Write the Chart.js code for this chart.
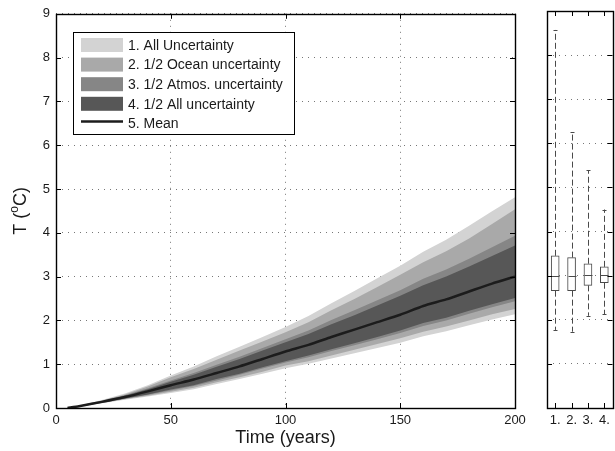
<!DOCTYPE html>
<html>
<head>
<meta charset="utf-8">
<script src="https://cdn.jsdelivr.net/npm/chart.js@4.4.1/dist/chart.umd.min.js"></script>
<style>
  html, body { margin: 0; padding: 0; background: #fff; }
  #wrap { position: relative; width: 615px; height: 451px; }
  #main { position: absolute; left: 0; top: 0; }
  #side { position: absolute; left: 540px; top: 0; }
</style>
</head>
<body>
<div id="wrap">
  <canvas id="main" width="615" height="451"></canvas>
  <canvas id="side" width="75" height="451"></canvas>
</div>
<script>
// warming paths (years after start) with nested uncertainty bands
const years   = [5, 10, 20, 30, 40, 50, 60, 70, 80, 90, 100, 110, 120, 130, 140, 150, 160, 170, 180, 190, 200];
const meanT   = [0, 0.04, 0.14, 0.25, 0.38, 0.52, 0.65, 0.80, 0.95, 1.12, 1.29, 1.44, 1.62, 1.79, 1.96, 2.13, 2.33, 2.48, 2.66, 2.84, 3.00];
const allHi   = [0, 0.05, 0.18, 0.33, 0.52, 0.74, 0.95, 1.18, 1.40, 1.62, 1.85, 2.10, 2.39, 2.67, 2.96, 3.25, 3.57, 3.84, 4.16, 4.49, 4.81];
const allLo   = [0, 0.03, 0.11, 0.19, 0.26, 0.34, 0.43, 0.55, 0.66, 0.78, 0.91, 1.01, 1.13, 1.25, 1.37, 1.49, 1.64, 1.75, 1.89, 2.02, 2.14];
const oceanHi = [0, 0.05, 0.17, 0.31, 0.49, 0.70, 0.89, 1.10, 1.31, 1.52, 1.73, 1.96, 2.23, 2.49, 2.76, 3.04, 3.33, 3.58, 3.87, 4.20, 4.54];
const oceanLo = [0, 0.03, 0.115, 0.20, 0.28, 0.37, 0.46, 0.59, 0.70, 0.83, 0.97, 1.07, 1.20, 1.33, 1.46, 1.59, 1.74, 1.86, 2.00, 2.14, 2.26];
const atmosHi = [0, 0.045, 0.16, 0.29, 0.45, 0.63, 0.80, 0.99, 1.17, 1.37, 1.57, 1.77, 2.01, 2.23, 2.46, 2.69, 2.95, 3.16, 3.41, 3.67, 3.93];
const atmosLo = [0, 0.033, 0.12, 0.21, 0.30, 0.40, 0.50, 0.63, 0.76, 0.90, 1.04, 1.16, 1.30, 1.43, 1.57, 1.71, 1.87, 2.00, 2.15, 2.30, 2.44];
const halfHi  = [0, 0.043, 0.155, 0.28, 0.43, 0.60, 0.76, 0.94, 1.12, 1.31, 1.50, 1.69, 1.91, 2.12, 2.34, 2.56, 2.80, 3.00, 3.23, 3.47, 3.71];
const halfLo  = [0, 0.034, 0.123, 0.216, 0.31, 0.42, 0.52, 0.66, 0.78, 0.93, 1.07, 1.20, 1.34, 1.48, 1.62, 1.77, 1.94, 2.06, 2.22, 2.37, 2.51];

const seriesLabels = ['1. All Uncertainty', '2. 1/2 Ocean uncertainty', '3. 1/2 Atmos. uncertainty', '4. 1/2 All uncertainty', '5. Mean'];
const bandColors = ['#d3d3d3', '#a9a9a9', '#868686', '#575757'];
const meanColor = '#1c1c1c';

const xTitle = 'Time (years)';
const yTitle = ['T (', 'o', 'C)'];

// distributions at the end of the run
const boxLabels = ['1.', '2.', '3.', '4.'];
const boxMin = [1.77, 1.73, 2.09, 2.13];
const boxQ1  = [2.66, 2.66, 2.78, 2.84];
const boxMed = [3.00, 3.00, 3.02, 3.02];
const boxQ3  = [3.45, 3.41, 3.27, 3.20];
const boxMax = [8.57, 6.26, 5.39, 4.50];

const FONT = '"Liberation Sans", Arial, Helvetica, sans-serif';
const ink = '#1a1a1a';

const pts = arr => years.map((x, i) => ({ x, y: arr[i] }));

const band = (hi, lo, color, label, order) => [
  { label, data: pts(hi), fill: '+1', backgroundColor: color, borderColor: 'transparent', borderWidth: 0, pointRadius: 0, order },
  { label: label + ' low', data: pts(lo), fill: false, borderColor: 'transparent', borderWidth: 0, pointRadius: 0, order }
];

// frame with inward ticks, like the old plotting packages do
function drawFrame(chart, xTicks, yTicks) {
  const { ctx, chartArea: a, scales } = chart;
  ctx.save();
  ctx.strokeStyle = '#000';
  ctx.lineWidth = 1;
  ctx.beginPath();
  xTicks.forEach(v => {
    const px = Math.round(scales.x.getPixelForValue(v)) + 0.5;
    ctx.moveTo(px, a.bottom); ctx.lineTo(px, a.bottom - 5);
    ctx.moveTo(px, a.top); ctx.lineTo(px, a.top + 5);
  });
  yTicks.forEach(v => {
    const py = Math.round(scales.y.getPixelForValue(v)) + 0.5;
    ctx.moveTo(a.left, py); ctx.lineTo(a.left + 5, py);
    ctx.moveTo(a.right, py); ctx.lineTo(a.right - 5, py);
  });
  ctx.stroke();
  ctx.lineWidth = 1.4;
  ctx.strokeRect(Math.round(a.left) + 0.5, Math.round(a.top) + 0.5, Math.round(a.right - a.left), Math.round(a.bottom - a.top));
  ctx.restore();
}

const mainDecor = {
  id: 'mainDecor',
  afterDraw(chart) {
    const { ctx, chartArea: a } = chart;
    drawFrame(chart, [0, 50, 100, 150, 200], [0, 1, 2, 3, 4, 5, 6, 7, 8, 9]);

    // legend box
    ctx.save();
    const lx = 73, ly = 32, lw = 221, lh = 102;
    ctx.fillStyle = '#fff';
    ctx.fillRect(lx, ly, lw, lh);
    ctx.strokeStyle = '#000';
    ctx.lineWidth = 1;
    ctx.strokeRect(lx + 0.5, ly + 0.5, lw, lh);
    ctx.font = '14px ' + FONT;
    ctx.textBaseline = 'middle';
    ctx.fillStyle = ink;
    seriesLabels.forEach((txt, i) => {
      const cy = 45 + i * 19.6;
      if (i < bandColors.length) {
        ctx.fillStyle = bandColors[i];
        ctx.fillRect(81, cy - 7, 42, 14);
      } else {
        ctx.strokeStyle = meanColor;
        ctx.lineWidth = 2.5;
        ctx.beginPath();
        ctx.moveTo(81, cy - 2); ctx.lineTo(123, cy - 2);
        ctx.stroke();
      }
      ctx.fillStyle = ink;
      ctx.fillText(txt, 128, cy + 1);
    });

    // axis titles
    ctx.font = '18px ' + FONT;
    ctx.textAlign = 'center';
    ctx.textBaseline = 'middle';
    ctx.fillText(xTitle, (a.left + a.right) / 2, 438);

    ctx.translate(21, (a.top + a.bottom) / 2);
    ctx.rotate(-Math.PI / 2);
    ctx.textAlign = 'left';
    const big = '18px ' + FONT, small = '12px ' + FONT;
    ctx.font = big;  const w0 = ctx.measureText(yTitle[0]).width;
    ctx.font = small; const w1 = ctx.measureText(yTitle[1]).width;
    ctx.font = big;  const w2 = ctx.measureText(yTitle[2]).width;
    let x0 = -(w0 + w1 + w2) / 2;
    ctx.font = big;  ctx.fillText(yTitle[0], x0, 0);
    ctx.font = small; ctx.fillText(yTitle[1], x0 + w0, -6);
    ctx.font = big;  ctx.fillText(yTitle[2], x0 + w0 + w1, 0);
    ctx.restore();
  }
};

new Chart(document.getElementById('main').getContext('2d'), {
  type: 'line',
  data: {
    datasets: [
      ...band(allHi, allLo, bandColors[0], seriesLabels[0], 5),
      ...band(oceanHi, oceanLo, bandColors[1], seriesLabels[1], 4),
      ...band(atmosHi, atmosLo, bandColors[2], seriesLabels[2], 3),
      ...band(halfHi, halfLo, bandColors[3], seriesLabels[3], 2),
      { label: seriesLabels[4], data: pts(meanT), fill: false, borderColor: meanColor, borderWidth: 2.5, pointRadius: 0, tension: 0.2, order: 1 }
    ]
  },
  options: {
    responsive: false,
    animation: false,
    layout: { padding: { top: 11, right: 100, left: 0, bottom: 0 } },
    plugins: { legend: { display: false }, tooltip: { enabled: false } },
    scales: {
      x: {
        type: 'linear', min: 0, max: 200,
        ticks: { stepSize: 50, color: ink, font: { size: 13, family: FONT }, padding: 5, maxRotation: 0 },
        grid: { color: '#777', lineWidth: 1, drawTicks: false },
        border: { display: false, dash: [1, 5] },
        afterFit: s => { s.height = 43; }
      },
      y: {
        min: 0, max: 9,
        ticks: { stepSize: 1, color: ink, font: { size: 13, family: FONT }, padding: 6 },
        grid: { color: '#777', lineWidth: 1, drawTicks: false },
        border: { display: false, dash: [1, 5] },
        afterFit: s => { s.width = 56; }
      }
    }
  },
  plugins: [mainDecor]
});

// whiskers, caps and medians for the box panel
const sideDecor = {
  id: 'sideDecor',
  afterDatasetsDraw(chart) {
    const { ctx, scales } = chart;
    ctx.save();
    ctx.strokeStyle = '#4a4a4a';
    ctx.lineWidth = 1;
    boxLabels.forEach((lab, i) => {
      const cx = Math.round(scales.x.getPixelForValue(i)) + 0.5;
      const yMin = scales.y.getPixelForValue(boxMin[i]);
      const yQ1 = scales.y.getPixelForValue(boxQ1[i]);
      const yQ3 = scales.y.getPixelForValue(boxQ3[i]);
      const yMax = scales.y.getPixelForValue(boxMax[i]);
      const yMed = Math.round(scales.y.getPixelForValue(boxMed[i])) + 0.5;
      ctx.setLineDash([6, 3]);
      ctx.beginPath();
      ctx.moveTo(cx, yQ3); ctx.lineTo(cx, yMax);
      ctx.moveTo(cx, yQ1); ctx.lineTo(cx, yMin);
      ctx.stroke();
      ctx.setLineDash([]);
      ctx.beginPath();
      ctx.moveTo(cx - 2, Math.round(yMax) + 0.5); ctx.lineTo(cx + 2, Math.round(yMax) + 0.5);
      ctx.moveTo(cx - 2, Math.round(yMin) + 0.5); ctx.lineTo(cx + 2, Math.round(yMin) + 0.5);
      ctx.moveTo(cx - 4, yMed); ctx.lineTo(cx + 4, yMed);
      ctx.stroke();
    });
    ctx.restore();
  },
  afterDraw(chart) {
    drawFrame(chart, [0, 1, 2, 3], [0, 1, 2, 3, 4, 5, 6, 7, 8, 9]);
  }
};

new Chart(document.getElementById('side').getContext('2d'), {
  type: 'bar',
  data: {
    labels: boxLabels,
    datasets: [{
      data: boxQ1.map((q, i) => [q, boxQ3[i]]),
      backgroundColor: '#fff',
      borderColor: '#4a4a4a',
      borderWidth: 1,
      borderSkipped: false,
      barThickness: 8
    }]
  },
  options: {
    responsive: false,
    animation: false,
    layout: { padding: { top: 11, right: 2, left: 0, bottom: 0 } },
    plugins: { legend: { display: false }, tooltip: { enabled: false } },
    scales: {
      x: {
        offset: true,
        ticks: { color: ink, font: { size: 13, family: FONT }, padding: 5, maxRotation: 0, autoSkip: false },
        grid: { display: false, drawTicks: false },
        border: { display: false },
        afterFit: s => { s.height = 43; }
      },
      y: {
        min: 0, max: 9,
        ticks: { display: false, stepSize: 1 },
        grid: { color: '#777', lineWidth: 1, drawTicks: false },
        border: { display: false, dash: [1, 5] },
        afterFit: s => { s.width = 7; }
      }
    }
  },
  plugins: [sideDecor]
});
</script>
</body>
</html>
